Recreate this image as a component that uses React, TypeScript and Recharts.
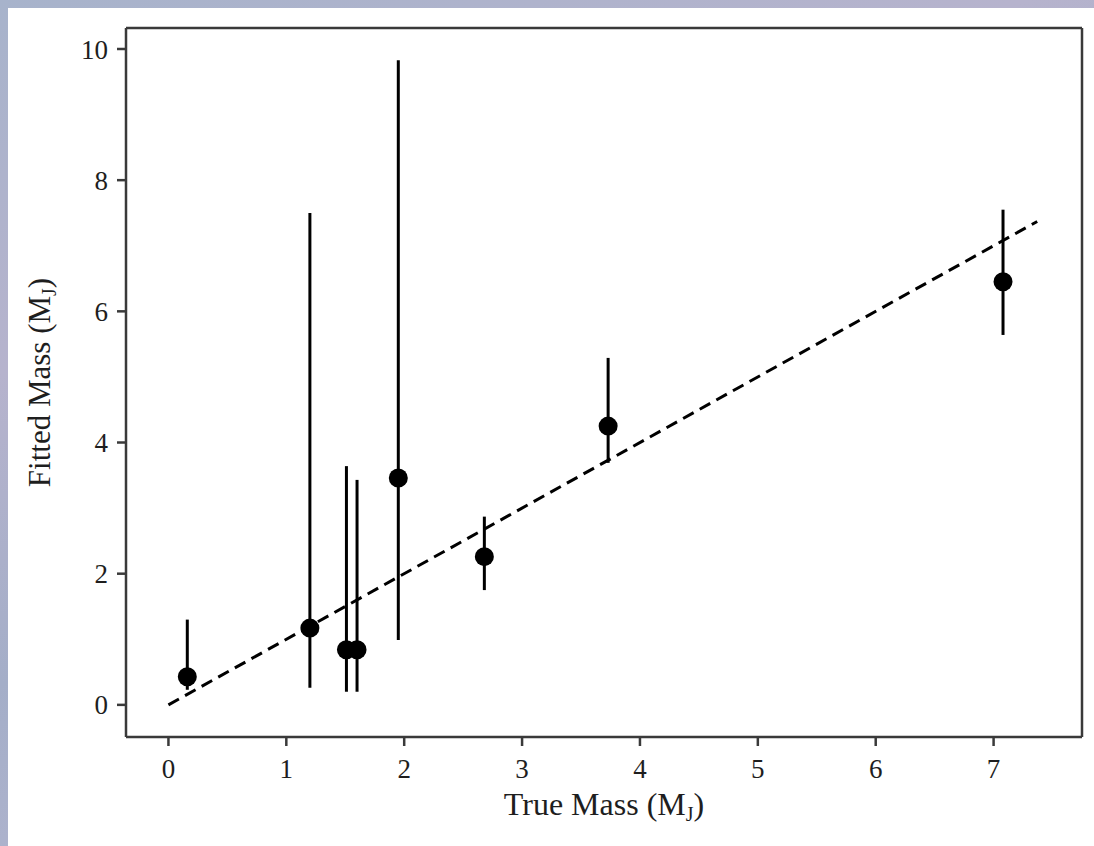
import React from 'react';
import {
  ScatterChart,
  Scatter,
  XAxis,
  YAxis,
  ErrorBar,
  ReferenceLine,
} from 'recharts';

// values
const trueMass = [0.16, 1.2, 1.51, 1.6, 1.95, 2.68, 3.73, 7.08];
const fittedMass = [0.43, 1.17, 0.84, 0.84, 3.46, 2.26, 4.25, 6.45];
const fittedUpper = [1.3, 7.5, 3.64, 3.43, 9.83, 2.87, 5.29, 7.55];
const fittedLower = [0.23, 0.26, 0.2, 0.2, 0.99, 1.75, 3.69, 5.64];

const xTicks = [0, 1, 2, 3, 4, 5, 6, 7];
const yTicks = [0, 2, 4, 6, 8, 10];
const oneToOne = [0, 7.37];
const xDomain = [-0.36, 7.75];
const yDomain = [-0.49, 10.32];

const points = trueMass.map((x, i) => ({
  x,
  y: fittedMass[i],
  err: [fittedMass[i] - fittedLower[i], fittedUpper[i] - fittedMass[i]],
}));

const FONT = '"Liberation Serif", "DejaVu Serif", serif';
const AXIS = '#3a3a3a';
const TEXT = '#1e1e1e';

const Dot = (props: any) => <circle cx={props.cx} cy={props.cy} r={9.5} fill="#000" />;

const XLabel = (props: any) => {
  const { viewBox } = props;
  const cx = viewBox.x + viewBox.width / 2;
  return (
    <text x={cx} y={viewBox.y + 78} textAnchor="middle" fontFamily={FONT} fontSize={32} fill={TEXT}>
      True Mass (M<tspan fontSize={20} dy={6}>J</tspan>
      <tspan dy={-6}>)</tspan>
    </text>
  );
};

const YLabel = (props: any) => {
  const { viewBox } = props;
  const cy = viewBox.y + viewBox.height / 2;
  const cx = 42;
  return (
    <text
      x={cx}
      y={cy}
      textAnchor="middle"
      fontFamily={FONT}
      fontSize={31}
      fill={TEXT}
      transform={`rotate(-90 ${cx} ${cy})`}
    >
      Fitted Mass (M<tspan fontSize={20} dy={6}>J</tspan>
      <tspan dy={-6}>)</tspan>
    </text>
  );
};

const tickStyle = { fontFamily: FONT, fontSize: 27, fill: TEXT };
const frame = { stroke: AXIS, strokeWidth: 2.5 };

export default function App() {
  return (
    <div
      style={{
        position: 'fixed',
        left: 0,
        top: 0,
        width: 1094,
        height: 846,
        backgroundColor: '#aab0c9',
        backgroundImage:
          'linear-gradient(160deg, #a7b3cb 0%, #b6b3cd 30%, #a4aec8 55%, #b4b6d0 80%, #a9b4cc 100%)',
      }}
    >
      <div style={{ position: 'absolute', left: 8, top: 8, width: 1086, height: 838, background: '#fff' }}>
        <ScatterChart width={1086} height={838} margin={{ top: 20, right: 12, left: 0, bottom: 0 }}>
          <XAxis
            type="number"
            dataKey="x"
            domain={xDomain}
            ticks={xTicks}
            allowDataOverflow
            height={109}
            axisLine={frame}
            tickLine={frame}
            tickSize={9}
            tickMargin={13}
            tick={tickStyle}
            label={<XLabel />}
          />
          <YAxis
            type="number"
            dataKey="y"
            domain={yDomain}
            ticks={yTicks}
            allowDataOverflow
            width={118}
            axisLine={frame}
            tickLine={frame}
            tickSize={9}
            tickMargin={9}
            tick={tickStyle}
            label={<YLabel />}
          />
          {/* top and right spines */}
          <ReferenceLine y={yDomain[1]} stroke={AXIS} strokeWidth={2.5} ifOverflow="visible" />
          <ReferenceLine x={xDomain[1]} stroke={AXIS} strokeWidth={2.5} ifOverflow="visible" />
          <ReferenceLine
            segment={[
              { x: oneToOne[0], y: oneToOne[0] },
              { x: oneToOne[1], y: oneToOne[1] },
            ]}
            stroke="#000"
            strokeWidth={3}
            strokeDasharray="12 7"
            ifOverflow="visible"
          />
          <Scatter data={points} shape={<Dot />} isAnimationActive={false}>
            <ErrorBar dataKey="err" direction="y" width={0} stroke="#000" strokeWidth={3} />
          </Scatter>
        </ScatterChart>
      </div>
    </div>
  );
}
